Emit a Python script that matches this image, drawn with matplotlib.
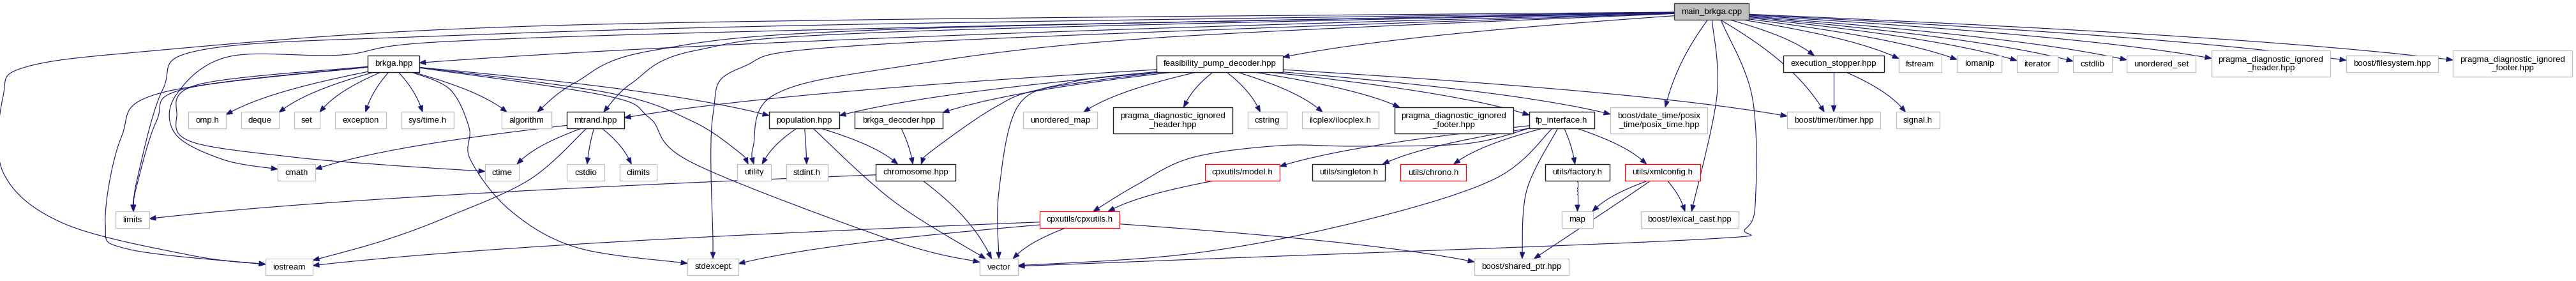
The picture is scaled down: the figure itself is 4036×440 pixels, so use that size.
import numpy as np
import matplotlib.pyplot as plt
from matplotlib.patches import Rectangle, Polygon

plt.rcParams["font.family"] = ["Liberation Sans", "DejaVu Sans"]

W, H = 4036, 440
EDGE_COLOR = "#191970"

# ---- graph data: nodes (file names) and include edges ----
node_keys = ["main", "brkga", "fpd", "exec", "fstream", "iomanip", "iterator", "cstdlib", "uset",
             "pragh2", "bfs", "pragf2",
             "omp", "deque", "set", "exception", "systime", "algorithm", "mtrand", "population",
             "bdecoder", "umap", "pragh", "cstring", "ilocplex", "pragf", "fpi", "posix", "timer", "signal",
             "cmath", "ctime", "cstdio", "climits", "utility", "stdint", "chromosome", "model",
             "singleton", "chrono", "factory", "xmlconfig",
             "limits", "cpxutils", "map", "lexical",
             "iostream", "stdexcept", "vector", "sharedptr"]
node_labels = ["main_brkga.cpp", "brkga.hpp", "feasibility_pump_decoder.hpp", "execution_stopper.hpp",
               "fstream", "iomanip", "iterator", "cstdlib", "unordered_set",
               "pragma_diagnostic_ignored\n_header.hpp", "boost/filesystem.hpp",
               "pragma_diagnostic_ignored\n_footer.hpp",
               "omp.h", "deque", "set", "exception", "sys/time.h", "algorithm", "mtrand.hpp",
               "population.hpp", "brkga_decoder.hpp", "unordered_map",
               "pragma_diagnostic_ignored\n_header.hpp", "cstring", "ilcplex/ilocplex.h",
               "pragma_diagnostic_ignored\n_footer.hpp", "fp_interface.h",
               "boost/date_time/posix\n_time/posix_time.hpp", "boost/timer/timer.hpp", "signal.h",
               "cmath", "ctime", "cstdio", "climits", "utility", "stdint.h", "chromosome.hpp",
               "cpxutils/model.h", "utils/singleton.h", "utils/chrono.h", "utils/factory.h",
               "utils/xmlconfig.h",
               "limits", "cpxutils/cpxutils.h", "map", "boost/lexical_cast.hpp",
               "iostream", "stdexcept", "vector", "boost/shared_ptr.hpp"]
node_kind = ["root", "doc", "doc", "doc", "ext", "ext", "ext", "ext", "ext", "ext", "ext", "ext",
             "ext", "ext", "ext", "ext", "ext", "ext", "doc", "doc", "doc", "ext", "doc", "ext", "ext",
             "doc", "doc", "ext", "ext", "ext",
             "ext", "ext", "ext", "ext", "ext", "ext", "doc", "red", "doc", "red", "doc", "red",
             "ext", "red", "ext", "ext",
             "ext", "ext", "ext", "ext"]

edges = [
    ("main", "brkga"), ("main", "fpd"), ("main", "exec"), ("main", "fstream"), ("main", "iomanip"),
    ("main", "iterator"), ("main", "cstdlib"), ("main", "uset"), ("main", "pragh2"), ("main", "bfs"),
    ("main", "pragf2"), ("main", "timer"), ("main", "posix"), ("main", "lexical"), ("main", "vector"),
    ("main", "limits"), ("main", "iostream"), ("main", "cmath"), ("main", "algorithm"),
    ("main", "mtrand"), ("main", "utility"), ("main", "stdexcept"),
    ("brkga", "omp"), ("brkga", "deque"), ("brkga", "set"), ("brkga", "exception"),
    ("brkga", "systime"), ("brkga", "algorithm"), ("brkga", "stdexcept"), ("brkga", "utility"),
    ("brkga", "population"), ("brkga", "vector"), ("brkga", "iostream"), ("brkga", "limits"),
    ("brkga", "ctime"),
    ("fpd", "bdecoder"), ("fpd", "chromosome"), ("fpd", "population"), ("fpd", "mtrand"),
    ("fpd", "vector"), ("fpd", "umap"), ("fpd", "pragh"), ("fpd", "cstring"), ("fpd", "ilocplex"),
    ("fpd", "pragf"), ("fpd", "fpi"), ("fpd", "posix"), ("fpd", "timer"),
    ("exec", "timer"), ("exec", "signal"),
    ("mtrand", "cmath"), ("mtrand", "ctime"), ("mtrand", "iostream"), ("mtrand", "cstdio"),
    ("mtrand", "climits"),
    ("population", "utility"), ("population", "stdint"), ("population", "chromosome"),
    ("population", "vector"),
    ("bdecoder", "chromosome"),
    ("chromosome", "vector"), ("chromosome", "limits"),
    ("fpi", "model"), ("fpi", "singleton"), ("fpi", "chrono"), ("fpi", "factory"),
    ("fpi", "xmlconfig"), ("fpi", "cpxutils"), ("fpi", "vector"), ("fpi", "sharedptr"),
    ("model", "cpxutils"),
    ("cpxutils", "vector"), ("cpxutils", "sharedptr"), ("cpxutils", "iostream"),
    ("cpxutils", "stdexcept"),
    ("factory", "map"),
    ("xmlconfig", "map"), ("xmlconfig", "lexical"), ("xmlconfig", "sharedptr"),
]

# ---- layout (pixel positions of the boxes, as in the reference drawing) ----
row_y = [18.5, 100, 188.5, 270, 344, 418]
node_left = [2623, 576, 1812, 2794, 2975, 3066, 3160, 3248, 3332, 3465, 3676, 3843,
             295, 378, 461, 525, 629, 786, 888, 1205, 1339, 1603, 1744, 1955, 2040, 2185, 2396,
             2523, 2800, 2971,
             435, 760, 888, 971, 1155, 1232, 1372, 1888, 2056, 2194, 2421, 2546,
             181, 1629, 2447, 2571,
             416, 1077, 1535, 2310]
node_right = [2740, 657, 2010, 2952, 3042, 3136, 3224, 3309, 3440, 3651, 3820, 4030,
              354, 437, 501, 605, 711, 864, 978, 1315, 1477, 1719, 1931, 2016, 2160, 2371, 2498,
              2675, 2946, 3039,
              494, 813, 947, 1029, 1208, 1297, 1497, 2005, 2170, 2297, 2522, 2664,
              234, 1754, 2496, 2724,
              490, 1157, 1595, 2458]
node_row = [0] + [1] * 11 + [2] * 18 + [3] * 12 + [4] * 4 + [5] * 4

# interior points of the long, routed edges
routes = {
    ("main", "iostream"): [(1350, 31), (700, 46), (245, 79), (40, 105), (5, 150), (5, 270),
                           (100, 350), (300, 400)],
    ("main", "limits"): [(1350, 38), (700, 56), (317, 78), (255, 140), (215, 280)],
    ("main", "cmath"): [(1350, 45), (700, 65), (536, 86), (357, 89), (275, 150), (275, 210),
                        (350, 250)],
    ("main", "algorithm"): [(1400, 46), (1023, 79), (900, 130)],
    ("main", "mtrand"): [(1400, 50), (1090, 79), (990, 130)],
    ("main", "stdexcept"): [(1400, 68), (1161, 106), (1117, 180), (1117, 380)],
    ("main", "utility"): [(1800, 60), (1400, 106), (1212, 149), (1180, 230)],
    ("main", "vector"): [(2700, 40), (2745, 150), (2751, 300), (2735, 358), (2660, 375),
                         (1900, 405)],
    ("main", "lexical"): [(2690, 150)],
    ("brkga", "iostream"): [(250, 146), (190, 215), (165, 350), (200, 390)],
    ("brkga", "limits"): [(290, 139), (245, 190), (212, 300)],
    ("brkga", "ctime"): [(312, 132), (277, 182), (300, 222), (450, 245), (600, 258)],
    ("brkga", "stdexcept"): [(705, 140), (735, 200), (737, 250), (800, 330), (905, 388)],
    ("brkga", "utility"): [(957, 146), (1085, 190), (1160, 240)],
    ("brkga", "vector"): [(950, 150), (1018, 185), (1085, 255), (1400, 377)],
    ("fpd", "chromosome"): [(1634, 139), (1557, 169), (1455, 240)],
    ("fpd", "vector"): [(1677, 129), (1595, 166), (1565, 300)],
    ("fpi", "cpxutils"): [(2297, 225), (2125, 229), (2005, 228), (1867, 247), (1780, 290)],
    ("fpi", "vector"): [(2340, 281), (2125, 348), (1867, 397)],
    ("fpi", "sharedptr"): [(2392, 298)],
    ("mtrand", "iostream"): [(830, 281), (700, 340), (600, 377)],
    ("xmlconfig", "sharedptr"): [(2539, 315)],
    ("population", "vector"): [(1400, 315)],
}

boxes = {}
for k, lab, x0, x1, r in zip(node_keys, node_labels, node_left, node_right, node_row):
    h = 41 if "\n" in lab else 26
    boxes[k] = ((x0 + x1) / 2, row_y[r], (x1 - x0) / 2, h / 2)


def clip(key, p):
    cx, cy, hw, hh = boxes[key]
    dx, dy = p[0] - cx, p[1] - cy
    t = min(hw / abs(dx) if dx else np.inf, hh / abs(dy) if dy else np.inf)
    return np.array([cx + t * dx, cy + t * dy])


def catmull(pts, n=24):
    pts = np.asarray(pts, float)
    p = np.vstack([pts[0], pts, pts[-1]])
    out = []
    for i in range(1, len(p) - 2):
        p0, p1, p2, p3 = p[i - 1], p[i], p[i + 1], p[i + 2]
        for t in np.linspace(0, 1, n, endpoint=False):
            out.append(0.5 * (2 * p1 + (-p0 + p2) * t + (2 * p0 - 5 * p1 + 4 * p2 - p3) * t ** 2
                              + (-p0 + 3 * p1 - 3 * p2 + p3) * t ** 3))
    out.append(pts[-1])
    return np.array(out)


def bezier(p0, p3, n=40):
    d = p3 - p0
    p1 = p0 + np.array([0.42 * d[0], 0.28 * d[1]])
    p2 = p3 - np.array([0.22 * d[0], 0.42 * d[1]])
    t = np.linspace(0, 1, n)[:, None]
    return (1 - t) ** 3 * p0 + 3 * (1 - t) ** 2 * t * p1 + 3 * (1 - t) * t ** 2 * p2 + t ** 3 * p3


fig = plt.figure(figsize=(W / 100, H / 100), dpi=100)
ax = fig.add_axes([0, 0, 1, 1])
ax.set_xlim(0, W)
ax.set_ylim(H, 0)
ax.axis("off")

ARROW_LEN, ARROW_HW = 10, 3.8
for src, dst in edges:
    mid = routes.get((src, dst))
    if mid:
        start = clip(src, mid[0])
        end = clip(dst, mid[-1])
        curve = catmull([start] + list(mid) + [end])
    else:
        start = clip(src, boxes[dst][:2])
        end = clip(dst, boxes[src][:2])
        curve = bezier(start, end)
    # cut the line at the arrow base
    keep = np.hypot(*(curve - end).T) > ARROW_LEN
    base_ref = curve[keep][-1] if keep.any() else start
    u = (end - base_ref) / np.hypot(*(end - base_ref))
    base = end - u * ARROW_LEN
    line = np.vstack([curve[keep], base])
    ax.plot(line[:, 0], line[:, 1], color=EDGE_COLOR, lw=0.85, zorder=1, solid_capstyle="butt")
    nrm = np.array([-u[1], u[0]])
    ax.add_patch(Polygon([end, base + nrm * ARROW_HW, base - nrm * ARROW_HW], closed=True,
                         facecolor=EDGE_COLOR, edgecolor=EDGE_COLOR, lw=0.6, zorder=1))

border = {"root": ("#404040", "#bfbfbf", 1.0), "doc": ("#202020", "white", 1.0),
          "red": ("#ff0000", "white", 0.9), "ext": ("#bfbfbf", "white", 0.9)}
for k, lab, kind in zip(node_keys, node_labels, node_kind):
    cx, cy, hw, hh = boxes[k]
    ec, fc, lw = border[kind]
    ax.add_patch(Rectangle((cx - hw, cy - hh), 2 * hw, 2 * hh, facecolor=fc, edgecolor=ec,
                           lw=lw, zorder=2))
    ax.text(cx, cy + 0.5, lab, ha="center", va="center", fontsize=9.6, linespacing=1.15,
            color="black", zorder=3)

fig.savefig("out.png", dpi=100, facecolor="white")
